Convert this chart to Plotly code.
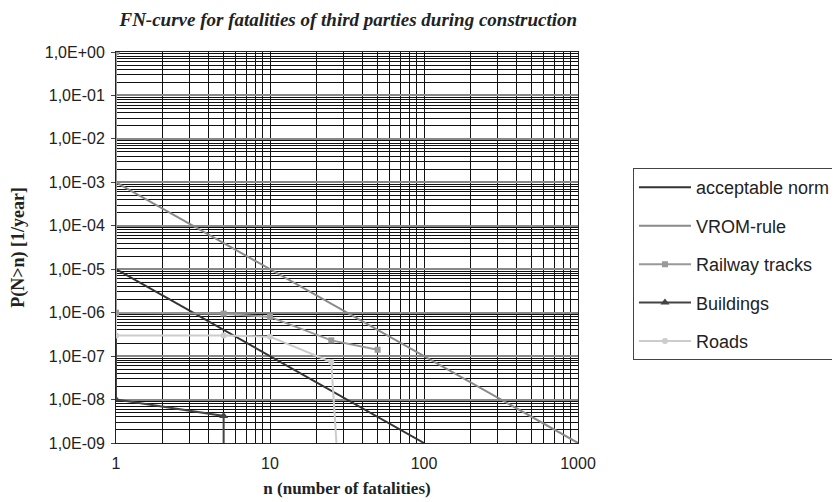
import plotly.graph_objects as go

# ---- data ----
norm_n = [1, 100]
norm_p = [1e-5, 1e-9]

vrom_n = [1, 1000]
vrom_p = [1e-3, 1e-9]

rail_n = [1, 1, 5, 10, 25, 50]
rail_p = [1.0, 1e-6, 9.5e-7, 8e-7, 2.3e-7, 1.4e-7]

build_n = [1, 1, 5, 5]
build_p = [1.0, 1e-8, 4.2e-9, 1e-9]

road_n = [1, 1, 5, 10, 25, 27]
road_p = [1.0, 3e-7, 3e-7, 2.8e-7, 7.3e-8, 1e-9]

y_tickvals = [1, 1e-1, 1e-2, 1e-3, 1e-4, 1e-5, 1e-6, 1e-7, 1e-8, 1e-9]
y_ticktext = ["1,0E+00", "1,0E-01", "1,0E-02", "1,0E-03", "1,0E-04",
              "1,0E-05", "1,0E-06", "1,0E-07", "1,0E-08", "1,0E-09"]
x_tickvals = [1, 10, 100, 1000]
x_ticktext = ["1", "10", "100", "1000"]

serif = "Liberation Serif, Times New Roman, serif"

fig = go.Figure()

fig.add_trace(go.Scatter(x=norm_n, y=norm_p, mode="lines", name="acceptable norm",
                         line=dict(color="#333333", width=2), legendgroup="a", legendrank=1))
fig.add_trace(go.Scatter(x=vrom_n, y=vrom_p, mode="lines", name="VROM-rule",
                         line=dict(color="#8a8a8a", width=2), legendgroup="b", legendrank=2))
fig.add_trace(go.Scatter(x=build_n, y=build_p, mode="lines+markers", name="Buildings",
                         line=dict(color="#444444", width=2),
                         marker=dict(symbol=["triangle-up", "triangle-up", "triangle-up", "line-ew"],
                                     size=8, color="#444444", line=dict(width=0)),
                         legendgroup="d", legendrank=4))
fig.add_trace(go.Scatter(x=road_n, y=road_p, mode="lines+markers", name="Roads",
                         line=dict(color="#cccccc", width=2),
                         marker=dict(symbol=["circle", "circle", "circle", "circle", "circle", "line-ew"],
                                     size=6, color="#cccccc", line=dict(width=0)),
                         legendgroup="e", legendrank=5))
fig.add_trace(go.Scatter(x=rail_n, y=rail_p, mode="lines+markers", name="Railway tracks",
                         line=dict(color="#999999", width=2),
                         marker=dict(symbol="square", size=6, color="#999999"),
                         legendgroup="c", legendrank=3))

fig.update_layout(
    width=832, height=494,
    margin=dict(l=108, r=262, t=44, b=59, autoexpand=False),
    paper_bgcolor="white", plot_bgcolor="white",
    font=dict(family="Liberation Sans, Arial, sans-serif", size=16, color="#222222"),
    title=dict(text="<b><i>FN-curve for fatalities of third parties during construction</i></b>",
               x=0.409, xanchor="center", y=0.978, yanchor="middle",
               font=dict(family=serif, size=19, color="#222222")),
    legend=dict(x=1.119, xanchor="left", y=0.703, yanchor="top",
                bordercolor="#444444", borderwidth=1, bgcolor="white",
                font=dict(size=18, color="#222222"), tracegroupgap=12,
                itemwidth=52),
    showlegend=True,
)

fig.update_xaxes(
    type="log", range=[0, 3], automargin=False,
    tickvals=x_tickvals, ticktext=x_ticktext,
    tickfont=dict(size=16), ticklabelstandoff=6,
    showgrid=True, gridcolor="#111111", gridwidth=1,
    minor=dict(dtick="D1", showgrid=True, gridcolor="#111111", gridwidth=1),
    showline=True, linecolor="#222222", linewidth=1, mirror=True,
    ticks="", zeroline=False,
    title=dict(text="<b>n (number of fatalities)</b>", standoff=10,
               font=dict(family=serif, size=17, color="#222222")),
)
fig.update_yaxes(
    type="log", range=[-9, 0], automargin=False,
    tickvals=y_tickvals, ticktext=y_ticktext,
    tickfont=dict(size=16), ticklabelstandoff=3,
    showgrid=True, gridcolor="#888888", gridwidth=2,
    minor=dict(dtick="D1", showgrid=True, gridcolor="#111111", gridwidth=1),
    showline=True, linecolor="#222222", linewidth=1, mirror=True,
    ticks="outside", ticklen=4, tickcolor="#444444", zeroline=False,
    title=dict(text="<b>P(N>n) [1/year]</b>", standoff=18,
               font=dict(family=serif, size=18, color="#222222")),
)

fig.write_html("out.html")
